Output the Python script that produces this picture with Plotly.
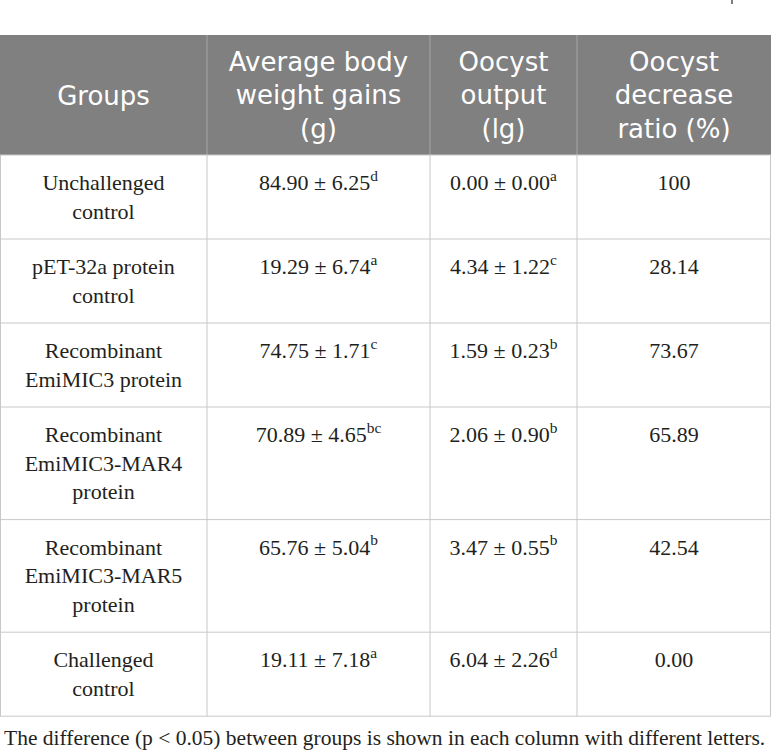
import plotly.graph_objects as go

# table values
groups = [
    "Unchallenged<br>control",
    "pET-32a protein<br>control",
    "Recombinant<br>EmiMIC3 protein",
    "Recombinant<br>EmiMIC3-MAR4<br>protein",
    "Recombinant<br>EmiMIC3-MAR5<br>protein",
    "Challenged<br>control",
]
weight_mean = [84.90, 19.29, 74.75, 70.89, 65.76, 19.11]
weight_sd = [6.25, 6.74, 1.71, 4.65, 5.04, 7.18]
weight_letter = ["d", "a", "c", "bc", "b", "a"]
oocyst_mean = [0.00, 4.34, 1.59, 2.06, 3.47, 6.04]
oocyst_sd = [0.00, 1.22, 0.23, 0.90, 0.55, 2.26]
oocyst_letter = ["a", "c", "b", "b", "b", "d"]
decrease_ratio = ["100", "28.14", "73.67", "65.89", "42.54", "0.00"]

headers = [
    "Groups",
    "Average body<br>weight gains<br>(g)",
    "Oocyst<br>output<br>(lg)",
    "Oocyst<br>decrease<br>ratio (%)",
]
footnote = "The difference (p < 0.05) between groups is shown in each column with different letters."

# layout of the grid (pixels)
W, H = 772, 751
col_w = [207, 223, 147, 194]
header_top, header_h = 35, 120
line_h, row_pad = 28.6, 26.8
border = "#c8c8c8"
ink = "#231f20"


def pm(m, s, l):
    return [f"{a:.2f} ± {b:.2f}<sup>{c}</sup>" for a, b, c in zip(m, s, l)]


columns = [groups, pm(weight_mean, weight_sd, weight_letter),
           pm(oocyst_mean, oocyst_sd, oocyst_letter), decrease_ratio]

# column edges and centres
edges = [0]
for w in col_w:
    edges.append(edges[-1] + w)
centres = [(a + b) / 2 for a, b in zip(edges[:-1], edges[1:])]

# row heights follow the number of lines in the group label
row_tops = [header_top + header_h]
for g in groups:
    row_tops.append(row_tops[-1] + row_pad + line_h * (g.count("<br>") + 1))
table_bottom = row_tops[-1]

fig = go.Figure()

# header
fig.add_shape(type="rect", x0=edges[0], x1=edges[-1], y0=header_top, y1=row_tops[0],
              fillcolor="#808080", line_width=0, layer="below")
for x in edges[1:-1]:
    fig.add_shape(type="line", x0=x, x1=x, y0=header_top, y1=row_tops[0],
                  line=dict(color="#a6a6a6", width=1))
fig.add_trace(go.Scatter(
    x=centres, y=[header_top + header_h / 2 + 3] * 4, text=headers,
    mode="text", textposition="middle center", hoverinfo="skip",
    textfont=dict(family="DejaVu Sans", size=26, color="white"),
))

# body grid
for y in row_tops:
    fig.add_shape(type="line", x0=edges[0], x1=edges[-1], y0=y, y1=y,
                  line=dict(color=border, width=1))
for x in [edges[0] + 0.5] + edges[1:-1] + [edges[-1] - 0.5]:
    fig.add_shape(type="line", x0=x, x1=x, y0=row_tops[0], y1=table_bottom,
                  line=dict(color=border, width=1))

# body text: group labels centred in the row, values on the first line
for i, col in enumerate(columns):
    if i == 0:
        ys = [(a + b) / 2 + 2 for a, b in zip(row_tops[:-1], row_tops[1:])]
    else:
        ys = [t + 29.5 for t in row_tops[:-1]]
    fig.add_trace(go.Scatter(
        x=[centres[i]] * len(col), y=ys, text=col,
        mode="text", textposition="middle center", hoverinfo="skip",
        textfont=dict(family="Liberation Serif", size=22, color=ink),
    ))

fig.add_annotation(
    text=footnote, x=2, y=table_bottom + 22, xanchor="left", yanchor="middle",
    showarrow=False, font=dict(family="Liberation Serif", size=21.5, color=ink),
)
# small mark at the top right edge of the page
fig.add_shape(type="line", x0=732, x1=732, y0=0, y1=4,
              line=dict(color="#555555", width=1.5))

fig.update_xaxes(range=[0, W], visible=False, fixedrange=True)
fig.update_yaxes(range=[H, 0], visible=False, fixedrange=True)
fig.update_layout(
    width=W, height=H,
    margin=dict(l=0, r=0, t=0, b=0),
    paper_bgcolor="white", plot_bgcolor="white",
    showlegend=False,
)

fig.write_html("out.html", config={"displayModeBar": False},
               post_script="document.body.style.margin='0px';")
